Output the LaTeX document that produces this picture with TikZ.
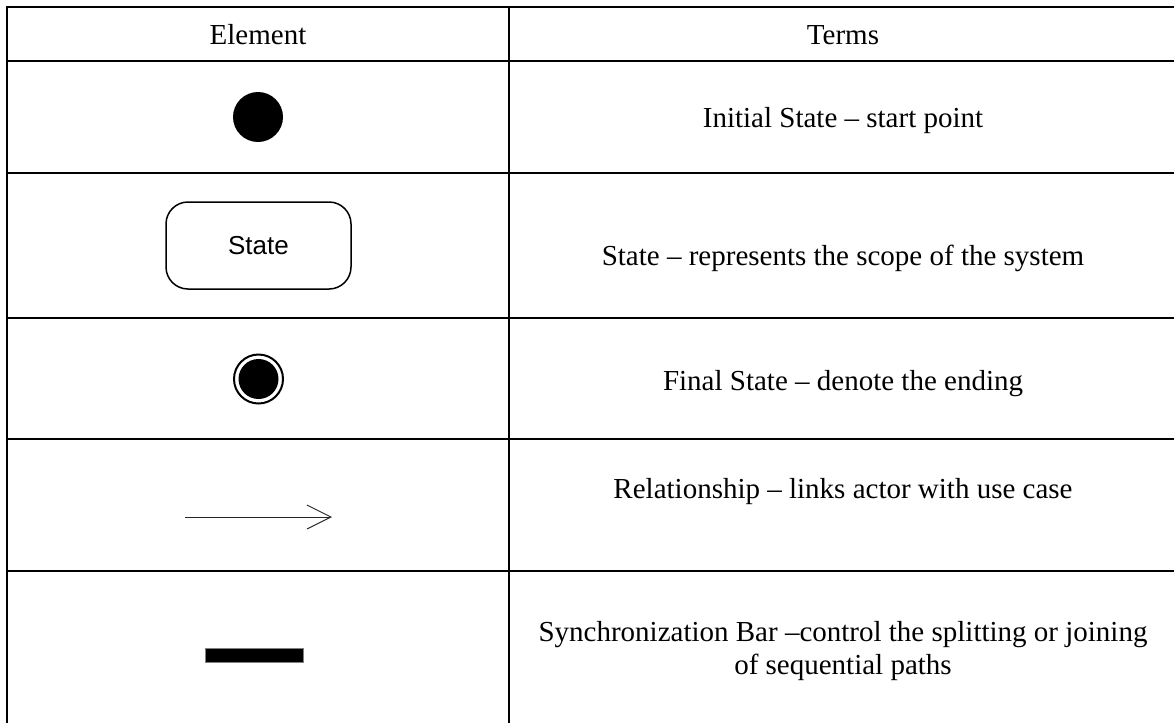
\documentclass[tikz,border=0pt]{standalone}
\usepackage{fontspec}
\setmainfont{Liberation Serif}
\newfontfamily\statefont{Liberation Sans}
\usetikzlibrary{arrows.meta}

\begin{document}
\begin{tikzpicture}[x = 1pt, y = -1pt, > = {Straight Barb[length = 24pt, width = 24pt]},
	rule/.style = {line width = 2pt},
	term/.style = {font = \fontsize{29}{33}\selectfont, align = center, inner sep = 0pt}]

	% Definitions
	
	\def\W{1174}		% Picture width
	\def\H{723}		% Picture height
	\def\xL{7}		% Left border
	\def\xM{509}		% Column divider
	\def\cA{258}		% Centre of element column
	\def\cB{843}		% Centre of terms column
	
	\useasboundingbox (0, 0) rectangle (\W, \H);
	
	% Table rules
	
	\foreach \y in {7, 61, 173, 318, 439, 571}
		\draw [rule] (\xL, \y) -- (\W, \y);
	\draw [rule] (\xL, 6) -- (\xL, \H);
	\draw [rule] (\xM, 6) -- (\xM, \H);
	
	% Header
	
	\node [term, anchor = base] (elementhead) at (\cA, 44) {Element};
	\node [term, anchor = base] (termshead) at (\cB, 44) {Terms};
	
	% Initial state
	
	\node [circle, fill = black, minimum size = 50pt, inner sep = 0pt] (initial) at (\cA, 117) {};
	\node [term, anchor = base] (initialterm) at (\cB, 127) {Initial State -- start point};
	
	% State
	
	\node [draw, rounded corners = 22pt, line width = 1.5pt, minimum width = 185pt, minimum height = 87pt,
		font = \statefont\fontsize{26}{30}\selectfont] (state) at (258.5, 245.5) {State};
	\node [term, anchor = base] (stateterm) at (\cB, 265) {State -- represents the scope of the system};
	
	% Final state
	
	\node [circle, draw, line width = 2pt, minimum size = 49pt, inner sep = 0pt] (final) at (258.5, 379) {};
	\node [circle, fill = black, minimum size = 40pt, inner sep = 0pt] (finaldot) at (final) {};
	\node [term, anchor = base] (finalterm) at (\cB, 390) {Final State -- denote the ending};
	
	% Relationship
	
	\coordinate (reltail) at (185, 517);
	\coordinate (relhead) at (332, 517);
	\draw [->, line width = 1pt, black!85] (reltail) -- (relhead);
	\node [term, anchor = base] (relterm) at (\cB, 498) {Relationship -- links actor with use case};
	
	% Synchronization bar
	
	\node [fill = black, draw = gray, line width = 0.8pt, minimum width = 98pt, minimum height = 14pt, inner sep = 0pt] (syncbar) at (254, 655) {};
	\node [term] (syncterm) at (\cB, 651.5) {Synchronization Bar --control the splitting or joining\\of sequential paths};

\end{tikzpicture}
\end{document}
